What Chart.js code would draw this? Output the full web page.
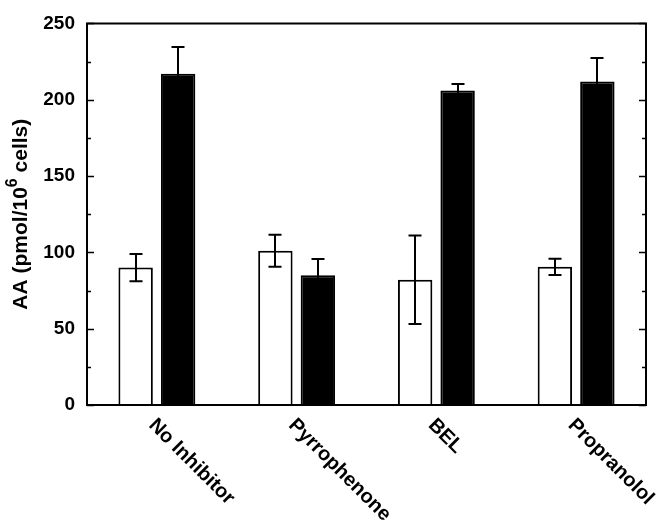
<!DOCTYPE html>
<html>
<head>
<meta charset="utf-8">
<script src="https://cdn.jsdelivr.net/npm/chart.js@4/dist/chart.umd.min.js"></script>
<style>
  html, body { margin: 0; padding: 0; background: #ffffff; }
  #wrap { width: 664px; height: 523px; }
</style>
</head>
<body>
<div id="wrap"><canvas id="c" width="664" height="523"></canvas></div>
<script>
// ---- Data ----
const categories = ['No Inhibitor', 'Pyrrophenone', 'BEL', 'Propranolol'];
const controlValues = [90, 101, 82, 90.5];
const controlErrors = [9, 10.5, 29, 5.3];
const stimValues = [217, 85, 206, 212];
const stimErrors = [17.5, 10.7, 4.3, 15.4];
const yMin = 0;
const yMax = 250;
const yStep = 50;
const yMinorStep = 25;

const FONT = "'Liberation Sans', Arial, Helvetica, sans-serif";

const errorBars = {
  id: 'errorBars',
  afterDatasetsDraw(chart) {
    const ctx = chart.ctx;
    const yScale = chart.scales.y;
    const errs = [controlErrors, stimErrors];
    ctx.save();
    ctx.strokeStyle = '#000';
    ctx.lineWidth = 2;
    chart.data.datasets.forEach((ds, di) => {
      const meta = chart.getDatasetMeta(di);
      meta.data.forEach((bar, i) => {
        const v = ds.data[i];
        const e = errs[di][i];
        const x = Math.round(bar.x);
        const yTop = yScale.getPixelForValue(v + e);
        const yBot = yScale.getPixelForValue(v - e);
        const cap = 6.5;
        ctx.beginPath();
        ctx.moveTo(x, yTop); ctx.lineTo(x, yBot);
        ctx.moveTo(x - cap, yTop); ctx.lineTo(x + cap, yTop);
        ctx.moveTo(x - cap, yBot); ctx.lineTo(x + cap, yBot);
        ctx.stroke();
      });
    });
    ctx.restore();
  }
};

const frameAndTicks = {
  id: 'frameAndTicks',
  afterDraw(chart) {
    const ctx = chart.ctx;
    const a = chart.chartArea;
    const yScale = chart.scales.y;
    ctx.save();
    ctx.strokeStyle = '#000';
    ctx.lineWidth = 2;
    ctx.beginPath();
    ctx.rect(a.left, a.top, a.right - a.left, a.bottom - a.top);
    ctx.stroke();
    ctx.lineWidth = 1.5;
    ctx.beginPath();
    for (let v = yMin; v <= yMax; v += yMinorStep) {
      const y = Math.round(yScale.getPixelForValue(v)) + 0.5;
      const len = (v % yStep === 0) ? 7 : 4;
      ctx.moveTo(a.left, y); ctx.lineTo(a.left + len, y);
      ctx.moveTo(a.right, y); ctx.lineTo(a.right - len, y);
    }
    ctx.stroke();

    // Rotated category labels
    const xScale = chart.scales.x;
    ctx.fillStyle = '#000';
    ctx.font = 'bold 20px ' + FONT;
    ctx.textAlign = 'left';
    ctx.textBaseline = 'top';
    categories.forEach((lab, i) => {
      const x = xScale.getPixelForValue(i);
      ctx.save();
      ctx.translate(x + 2, 415);
      ctx.rotate(Math.PI / 4);
      ctx.fillText(lab, 0, 0);
      ctx.restore();
    });

    // Y axis title with superscript
    const main = 'bold 21px ' + FONT;
    const sup = 'bold 16px ' + FONT;
    const p1 = 'AA (pmol/10', p2 = '6', p3 = ' cells)';
    ctx.font = main; const w1 = ctx.measureText(p1).width; const w3 = ctx.measureText(p3).width;
    ctx.font = sup; const w2 = ctx.measureText(p2).width;
    const total = w1 + w2 + w3;
    const cy = (a.top + a.bottom) / 2;
    ctx.save();
    ctx.translate(21, cy);
    ctx.rotate(-Math.PI / 2);
    ctx.textBaseline = 'middle';
    ctx.textAlign = 'left';
    let x0 = -total / 2;
    ctx.font = main; ctx.fillText(p1, x0, 0); x0 += w1;
    ctx.font = sup; ctx.fillText(p2, x0, -8); x0 += w2;
    ctx.font = main; ctx.fillText(p3, x0, 0);
    ctx.restore();
    ctx.restore();
  }
};

new Chart(document.getElementById('c'), {
  type: 'bar',
  data: {
    labels: categories,
    datasets: [
      {
        label: 'Control',
        data: controlValues,
        backgroundColor: '#ffffff',
        borderColor: '#000000',
        borderWidth: 2,
        categoryPercentage: 0.608,
        barPercentage: 0.81
      },
      {
        label: 'Stimulated',
        data: stimValues,
        backgroundColor: '#000000',
        borderColor: '#000000',
        borderWidth: 2,
        categoryPercentage: 0.608,
        barPercentage: 0.81
      }
    ]
  },
  options: {
    responsive: false,
    animation: false,
    events: [],
    layout: { padding: { left: 0, top: 15, right: 18, bottom: 118 } },
    plugins: { legend: { display: false }, tooltip: { enabled: false }, title: { display: false } },
    scales: {
      x: {
        grid: { display: false, drawTicks: false },
        border: { display: false },
        ticks: { display: false },
        afterFit(scale) { scale.height = 0; }
      },
      y: {
        min: yMin,
        max: yMax,
        grid: { display: false, drawTicks: false },
        border: { display: false },
        ticks: {
          stepSize: yStep,
          color: '#000',
          padding: 12,
          font: { family: FONT, size: 19, weight: 'bold' }
        },
        afterFit(scale) { scale.width = 87; }
      }
    }
  },
  plugins: [errorBars, frameAndTicks]
});
</script>
</body>
</html>
